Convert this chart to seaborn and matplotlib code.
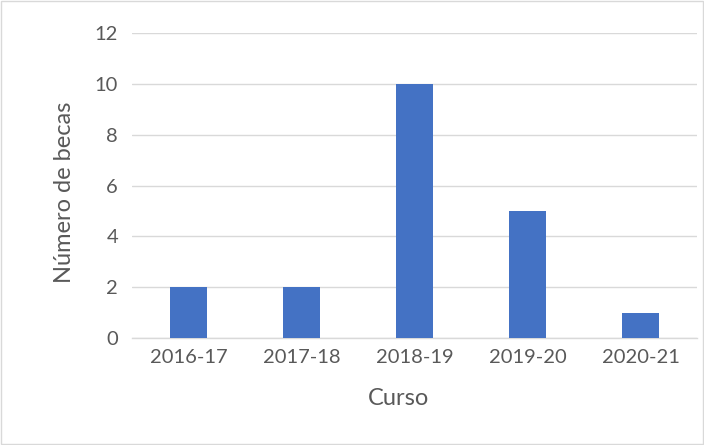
import matplotlib
import matplotlib.pyplot as plt
import pandas as pd
import seaborn as sns
from matplotlib.patches import Rectangle

matplotlib.use("Agg")

cursos = ["2016-17", "2017-18", "2018-19", "2019-20", "2020-21"]
becas = [2, 2, 10, 5, 1]
yticks = [0, 2, 4, 6, 8, 10, 12]

df = pd.DataFrame({"Curso": cursos, "Becas": becas})

sns.set_style("white")
plt.rcParams["font.family"] = ["Lato", "DejaVu Sans"]

fig = plt.figure(figsize=(7.04, 4.45), dpi=100)
ax = fig.add_axes([0.1875, 0.2404, 0.8025, 0.6854])

sns.barplot(data=df, x="Curso", y="Becas", color="#4472C4", width=0.32,
            saturation=1, linewidth=0, ax=ax, zorder=3)

ax.set_ylim(0, 12)
ax.set_yticks(yticks)
ax.yaxis.grid(True, color="#D9D9D9", linewidth=1, zorder=0)
for side in ["top", "right", "left"]:
    ax.spines[side].set_visible(False)
ax.spines["bottom"].set_color("#D9D9D9")
ax.spines["bottom"].set_linewidth(1)
ax.tick_params(axis="both", length=0, labelsize=14.5, colors="#595959")
ax.tick_params(axis="y", pad=10)
ax.tick_params(axis="x", pad=8)

ax.set_xlabel("Curso", fontsize=17, color="#595959", labelpad=16)
ax.set_ylabel("Número de becas", fontsize=17, color="#595959", labelpad=14)
# the titles sit a bit off the axis centre in the original
ax.xaxis.label.set_x(0.472)
ax.yaxis.label.set_y(0.479)

# thin frame round the chart area
fig.patches.append(Rectangle((0.002, 0.002), 0.996, 0.996, transform=fig.transFigure,
                             fill=False, edgecolor="#D9D9D9", linewidth=1))

fig.savefig("out.png", dpi=100)
plt.close(fig)
